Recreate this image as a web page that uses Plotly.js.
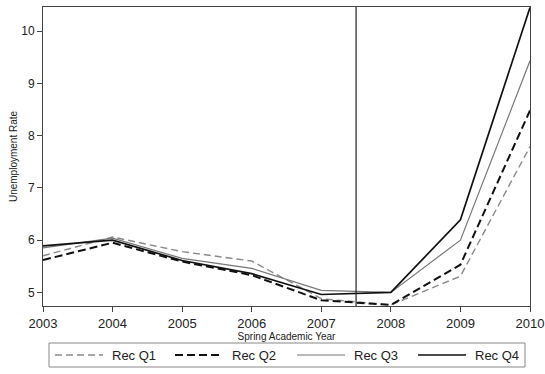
<!DOCTYPE html>
<html>
<head>
<meta charset="utf-8">
<script src="https://cdn.plot.ly/plotly-3.0.1.min.js"></script>
<style>
  html, body { margin: 0; padding: 0; background: #fff; }
  #chart { width: 545px; height: 374px; }
</style>
</head>
<body>
<div id="chart"></div>
<script>
// Spring academic years on the x axis
const years = [2003, 2004, 2005, 2006, 2007, 2008, 2009, 2010];

// Unemployment rate by recession-exposure quartile
const recQ1 = [5.70, 6.06, 5.78, 5.60, 4.88, 4.76, 5.31, 7.79];
const recQ2 = [5.62, 5.95, 5.59, 5.33, 4.85, 4.76, 5.53, 8.48];
const recQ3 = [5.85, 6.04, 5.65, 5.46, 5.04, 5.00, 6.00, 9.43];
const recQ4 = [5.89, 6.00, 5.61, 5.36, 4.96, 5.00, 6.39, 10.45];

const seriesNames = ['Rec Q1', 'Rec Q2', 'Rec Q3', 'Rec Q4'];
const yTicks = [5, 6, 7, 8, 9, 10];

// Break between pre- and post-recession years
const breakYear = [2007.5];

const styles = [
  { color: '#8a8a8a', width: 1.4, dash: '7px,4px' },
  { color: '#111111', width: 2.0, dash: '8px,4px' },
  { color: '#777777', width: 1.2, dash: 'solid' },
  { color: '#111111', width: 1.7, dash: 'solid' }
];

const traces = [recQ1, recQ2, recQ3, recQ4].map((vals, i) => ({
  type: 'scatter',
  mode: 'lines',
  x: years,
  y: vals,
  name: seriesNames[i],
  line: styles[i],
  showlegend: false,
  hoverinfo: 'skip'
}));

const font = 'Liberation Sans, Arial, sans-serif';

// Plot-area geometry in pixels, used to place the boxed legend below the axis
const W = 545, H = 374;
const M = { l: 43, r: 15, t: 7, b: 68 };
const plotW = W - M.l - M.r, plotH = H - M.t - M.b;
const px = x => (x - M.l) / plotW;
const py = y => (H - M.b - y) / plotH;

// Legend layout: one row of line swatches with labels, in a framed box
const legBox = { x0: 49, x1: 525, y0: 343, y1: 367 };
const legRowY = 355;
const legSwatchX = [55, 175, 297, 418];
const swatchLen = 48;
const labelGap = 7;

const legendShapes = [{
  type: 'rect', xref: 'paper', yref: 'paper',
  x0: px(legBox.x0), x1: px(legBox.x1), y0: py(legBox.y1), y1: py(legBox.y0),
  line: { color: '#888', width: 1 }, fillcolor: 'rgba(0,0,0,0)'
}].concat(seriesNames.map((n, i) => ({
  type: 'line', xref: 'paper', yref: 'paper',
  x0: px(legSwatchX[i]), x1: px(legSwatchX[i] + swatchLen),
  y0: py(legRowY), y1: py(legRowY),
  line: { color: styles[i].color, width: styles[i].width, dash: styles[i].dash }
})));

const legendLabels = seriesNames.map((n, i) => ({
  xref: 'paper', yref: 'paper',
  x: px(legSwatchX[i] + swatchLen + labelGap), y: py(legRowY),
  xanchor: 'left', yanchor: 'middle',
  text: n, showarrow: false,
  font: { size: 13, family: font, color: '#222' }
}));

const layout = {
  width: W,
  height: H,
  margin: Object.assign({ autoexpand: false }, M),
  paper_bgcolor: '#ffffff',
  plot_bgcolor: '#ffffff',
  font: { family: font, color: '#222' },
  showlegend: false,
  xaxis: {
    range: [2003, 2010],
    tickvals: years,
    ticktext: years.map(String),
    ticks: 'outside',
    ticklen: 5,
    tickcolor: '#444',
    tickfont: { size: 13, color: '#222' },
    showgrid: false,
    zeroline: false,
    showline: true,
    linecolor: '#444',
    linewidth: 1,
    mirror: true,
    title: { text: 'Spring Academic Year', font: { size: 10, color: '#222' }, standoff: 0 }
  },
  yaxis: {
    range: [4.74, 10.46],
    tickvals: yTicks,
    ticks: 'outside',
    ticklen: 5,
    tickcolor: '#444',
    tickfont: { size: 12, color: '#222' },
    showgrid: false,
    zeroline: false,
    showline: true,
    linecolor: '#444',
    linewidth: 1,
    mirror: true,
    title: { text: 'Unemployment Rate', font: { size: 10, color: '#222' }, standoff: 1 }
  },
  shapes: breakYear.map(bx => ({
    type: 'line',
    xref: 'x', yref: 'paper',
    x0: bx, x1: bx, y0: 0, y1: 1,
    line: { color: '#222', width: 1.2 }
  })).concat(legendShapes),
  annotations: legendLabels
};

Plotly.newPlot('chart', traces, layout, { staticPlot: true, displayModeBar: false });
</script>
</body>
</html>
